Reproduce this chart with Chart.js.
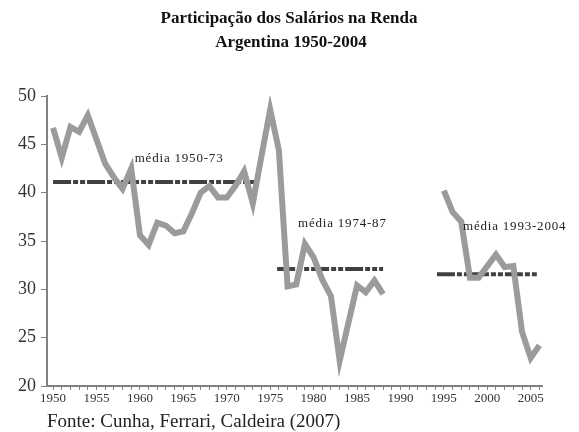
<!DOCTYPE html>
<html>
<head>
<meta charset="utf-8">
<script src="https://cdn.jsdelivr.net/npm/chart.js@4"></script>
<style>
  html, body { margin: 0; padding: 0; background: #fff; }
  #wrap { width: 579px; height: 432px; }
</style>
</head>
<body>
<div id="wrap"><canvas id="salarios" width="579" height="432"></canvas></div>
<script>
// anos e participação dos salários (% da renda)
const years = [1950,1951,1952,1953,1954,1955,1956,1957,1958,1959,
               1960,1961,1962,1963,1964,1965,1966,1967,1968,1969,
               1970,1971,1972,1973,1974,1975,1976,1977,1978,1979,
               1980,1981,1982,1983,1984,1985,1986,1987,1988,1989,
               1990,1991,1992,1993,1994,1995,1996,1997,1998,1999,
               2000,2001,2002,2003,2004,2005,2006];
const wageShare = [46.7,43.6,46.8,46.3,48.0,45.5,43.0,41.6,40.4,42.5,
                   35.6,34.6,36.9,36.6,35.8,36.0,37.9,40.0,40.7,39.5,
                   39.5,40.7,42.2,38.9,43.8,48.6,44.4,30.3,30.5,34.7,
                   33.3,31.0,29.3,22.6,26.5,30.4,29.7,30.9,29.5,null,
                   null,null,null,null,null,40.2,38.0,37.0,31.2,31.2,
                   32.4,33.6,32.3,32.4,25.6,22.9,24.2];

// médias por período
const meanLabels = ['média 1950-73', 'média 1974-87', 'média 1993-2004'];
const meanFrom = [1950, 1975.8, 1994.2];
const meanTo = [1973.6, 1988, 2005.7];
const meanValue = [41.1, 32.1, 31.55];
const labelYear = [1959.4, 1978.2, 1997.2];
const labelValue = [43.5, 36.8, 36.5];

const yTicks = [20, 25, 30, 35, 40, 45, 50];

const SERIF = "'Liberation Serif', 'DejaVu Serif', serif";

const datasets = [{
  data: years.map((y, i) => ({ x: y, y: wageShare[i] })),
  borderColor: '#9b9b9b',
  borderWidth: 6,
  pointRadius: 0,
  tension: 0,
  spanGaps: false
}];
meanValue.forEach((v, i) => {
  datasets.push({
    data: [{ x: meanFrom[i], y: v }, { x: meanTo[i], y: v }],
    borderColor: '#404040',
    borderWidth: 4,
    borderDash: [18, 2, 5, 2, 5, 2],
    pointRadius: 0
  });
});

// título, fonte e rótulos das médias
const textPlugin = {
  id: 'texts',
  afterDatasetsDraw(chart) {
    const { ctx, scales: { x, y } } = chart;
    ctx.save();
    ctx.fillStyle = '#222';
    ctx.font = '13px ' + SERIF;
    ctx.letterSpacing = '0.8px';
    ctx.textBaseline = 'middle';
    ctx.textAlign = 'left';
    meanLabels.forEach((t, i) => {
      ctx.fillText(t, x.getPixelForValue(labelYear[i]), y.getPixelForValue(labelValue[i]));
    });
    ctx.restore();
  },
  afterDraw(chart) {
    const { ctx } = chart;
    ctx.save();
    ctx.fillStyle = '#111';
    ctx.textBaseline = 'middle';
    ctx.textAlign = 'center';
    ctx.font = 'bold 17px ' + SERIF;
    ctx.fillText('Participação dos Salários na Renda', 289, 19);
    ctx.fillText('Argentina 1950-2004', 291, 43);
    ctx.textAlign = 'left';
    ctx.font = '19px ' + SERIF;
    ctx.fillStyle = '#222';
    ctx.fillText('Fonte: Cunha, Ferrari, Caldeira (2007)', 47, 422);
    ctx.restore();
  }
};

new Chart(document.getElementById('salarios'), {
  type: 'line',
  data: { datasets },
  options: {
    responsive: false,
    animation: false,
    layout: { padding: { top: 96, right: 37, bottom: 26, left: 0 } },
    plugins: { legend: { display: false }, tooltip: { enabled: false } },
    scales: {
      x: {
        type: 'linear',
        min: 1949.3,
        max: 2006.3,
        afterBuildTicks: s => { s.ticks = years.map(v => ({ value: v })); },
        afterFit: s => { s.height = 20; },
        border: { display: true, color: '#808080', width: 2 },
        grid: { drawOnChartArea: false, tickLength: 4, color: '#808080' },
        ticks: {
          autoSkip: false, maxRotation: 0, padding: 1,
          color: '#333',
          font: { family: SERIF, size: 13 },
          callback: v => (v % 5 === 0 ? String(v) : '')
        }
      },
      y: {
        min: 20,
        max: 50,
        afterBuildTicks: s => { s.ticks = yTicks.map(v => ({ value: v })); },
        afterFit: s => { s.width = 47; },
        border: { display: true, color: '#808080', width: 2 },
        grid: { drawOnChartArea: false, tickLength: 6, color: '#808080' },
        ticks: {
          padding: 5,
          color: '#333',
          font: { family: SERIF, size: 18 }
        }
      }
    }
  },
  plugins: [textPlugin]
});
</script>
</body>
</html>
